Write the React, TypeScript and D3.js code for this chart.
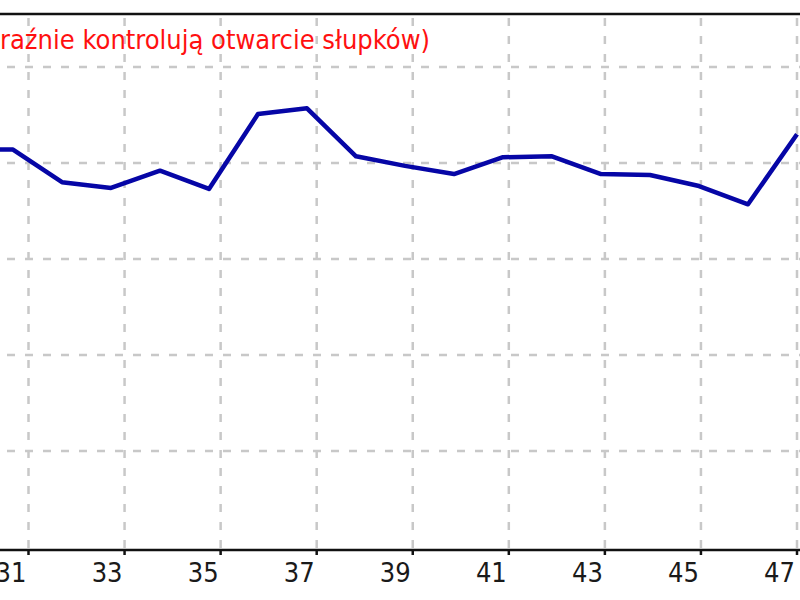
import React, {useEffect, useRef} from "react"
import * as d3 from "d3"

// pass numbers shown on the axis
const tickLabels: number[] = [31, 33, 35, 37, 39, 41, 43, 45, 47]
// passes drawn by the line (30 is partly off the left edge)
const passes: number[] = [30, 31, 32, 33, 34, 35, 36, 37, 38, 39, 40, 41, 42, 43, 44, 45, 46, 47]
// result per pass, in grid units
const results: number[] = [4.14, 4.14, 3.8, 3.74, 3.92, 3.73, 4.51, 4.57, 4.07, 3.97, 3.885, 4.06, 4.07, 3.885, 3.875, 3.76, 3.57, 4.3]
const gridLevels: number[] = [1, 2, 3, 4, 5]
const caption = "raźnie kontrolują otwarcie słupków)"

const App = () => {
    const ref = useRef(null)
    const width = 800
    const height = 600

    useEffect(() => {
        const svg = d3.select(ref.current)
        svg.selectAll("*").remove()

        const axisY = 550
        const topY = 14

        const xTick = d3.scaleLinear().domain([31, 47]).range([28.5, 797])
        const xLine = d3.scaleLinear().domain([31, 47]).range([13, 797])
        const y = d3.scaleLinear().domain([0, 5]).range([547, 67])

        // grid
        const grid = svg.append("g")
            .attr("stroke", "#c8c8c8")
            .attr("stroke-width", 2.5)
            .attr("stroke-dasharray", "8,10")
        grid.selectAll("line.h")
            .data(gridLevels)
            .join("line")
            .attr("class", "h")
            .attr("x1", 7).attr("x2", width)
            .attr("y1", d => y(d)).attr("y2", d => y(d))
        grid.selectAll("line.v")
            .data(tickLabels)
            .join("line")
            .attr("class", "v")
            .attr("x1", d => xTick(d)).attr("x2", d => xTick(d))
            .attr("y1", topY + 4).attr("y2", axisY)

        // frame
        svg.append("line")
            .attr("x1", 0).attr("x2", width)
            .attr("y1", topY).attr("y2", topY)
            .attr("stroke", "#111").attr("stroke-width", 2.5)
        svg.append("line")
            .attr("x1", 0).attr("x2", width)
            .attr("y1", axisY).attr("y2", axisY)
            .attr("stroke", "#111").attr("stroke-width", 2.5)

        // ticks + labels
        svg.append("g").selectAll("line")
            .data(tickLabels)
            .join("line")
            .attr("x1", d => xTick(d)).attr("x2", d => xTick(d))
            .attr("y1", axisY).attr("y2", axisY + 5)
            .attr("stroke", "#111").attr("stroke-width", 2.5)
        svg.append("g").selectAll("text")
            .data(tickLabels)
            .join("text")
            .attr("x", d => xTick(d) - 2)
            .attr("y", 582)
            .attr("text-anchor", "end")
            .attr("font-family", "'DejaVu Sans', sans-serif")
            .attr("font-stretch", "condensed")
            .attr("font-size", 27)
            .attr("fill", "#1a1a1a")
            .text(d => d)

        // caption
        svg.append("text")
            .attr("x", 0)
            .attr("y", 49)
            .attr("font-family", "'DejaVu Sans', sans-serif")
            .attr("font-stretch", "condensed")
            .attr("font-size", 27)
            .attr("fill", "#ff1010")
            .text(caption)

        // result line
        const line = d3.line<number>()
            .x((_, i) => xLine(passes[i]))
            .y(d => y(d))
        svg.append("path")
            .datum(results)
            .attr("d", line)
            .attr("fill", "none")
            .attr("stroke", "#0606a6")
            .attr("stroke-width", 4.5)
            .attr("stroke-linejoin", "round")
    })

    return (
        <svg
            ref={ref}
            width={width}
            height={height}
            style={{position: "absolute", left: 0, top: 0, background: "#fff", display: "block"}}
        />
    )
}

export default App
